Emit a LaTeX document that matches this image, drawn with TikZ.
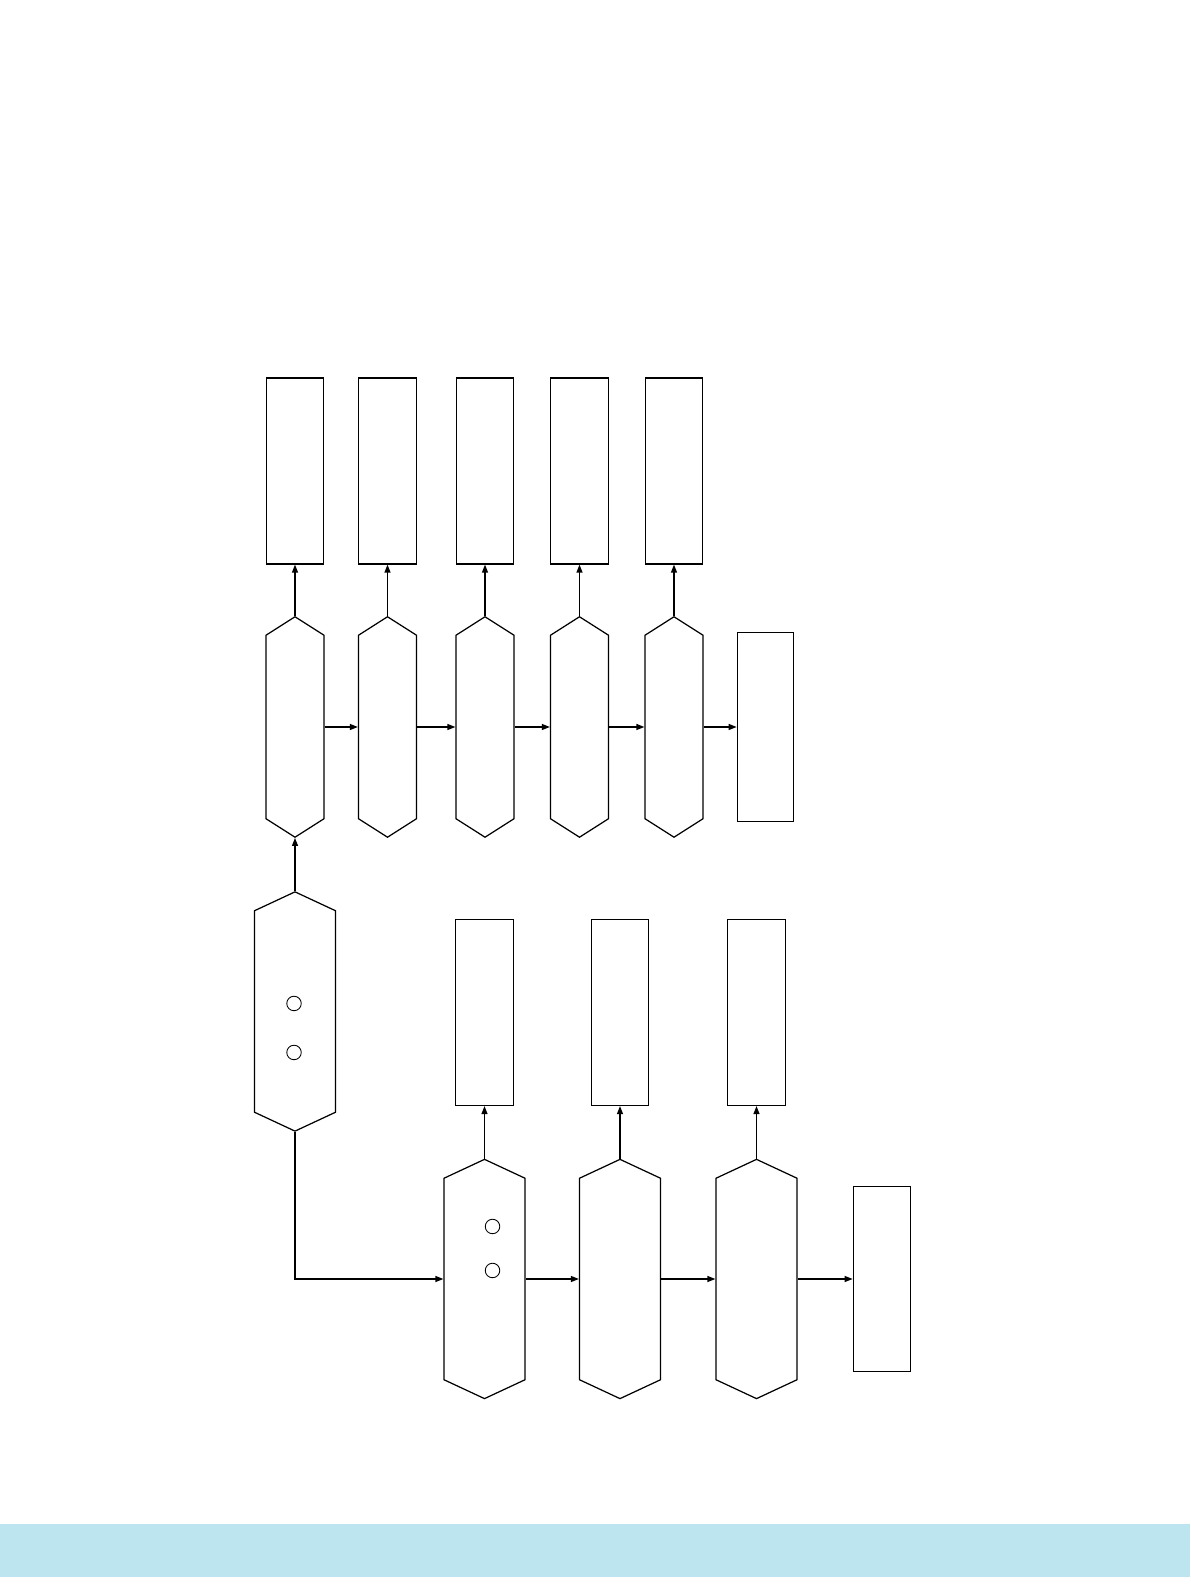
\documentclass[tikz,border=0pt]{standalone}
\usepackage{tikz}
\usetikzlibrary{arrows.meta}
\usetikzlibrary{shapes.symbols}
\definecolor{bandblue}{RGB}{188,229,240}
\tikzset{
  box/.style={draw, rectangle, inner sep=0pt, minimum width=1.15cm, minimum height=3.72cm},
  hexa/.style={draw, signal, signal to=north and south, inner sep=0pt},
  thinhex/.style={hexa, signal pointer angle=115, minimum width=1.16cm, minimum height=3.67cm},
  widehex/.style={hexa, signal pointer angle=130, minimum width=1.62cm, minimum height=4.03cm},
  hole/.style={draw, circle, inner sep=0pt, minimum size=0.29cm, line width=0.5pt},
  flow/.style={-{Triangle[length=0.16cm,width=0.12cm]}}
}
\begin{document}
\begin{tikzpicture}[line width=0.7pt]
\useasboundingbox (0,0) rectangle (23.8,31.76);
\fill[bandblue] (0,0.22) rectangle (23.8,1.28);
% draws upper row
\node[box] (ra) at (5.90,22.34) {};
\node[box] (rb) at (7.75,22.34) {};
\node[box] (rc) at (9.70,22.34) {};
\node[box] (rd) at (11.59,22.34) {};
\node[box] (re) at (13.48,22.34) {};
\node[thinhex] (ha) at (5.90,17.22) {};
\node[thinhex] (hb) at (7.75,17.22) {};
\node[thinhex] (hc) at (9.70,17.22) {};
\node[thinhex] (hd) at (11.59,17.22) {};
\node[thinhex] (he) at (13.48,17.22) {};
\node[box, minimum width=1.13cm, minimum height=3.77cm] (rf) at (15.31,17.22) {};
% draws feed column
\node[widehex] (hf) at (5.90,11.53) {};
\node[hole] (ca) at (5.88,11.69) {};
\node[hole] (cb) at (5.88,10.71) {};
% draws lower row
\node[box] (rg) at (9.69,11.51) {};
\node[box] (rh) at (12.40,11.51) {};
\node[box] (ri) at (15.13,11.51) {};
\node[widehex] (hg) at (9.69,6.18) {};
\node[widehex] (hh) at (12.40,6.18) {};
\node[widehex] (hi) at (15.13,6.18) {};
\node[hole] (cc) at (9.85,7.23) {};
\node[hole] (cd) at (9.85,6.35) {};
\node[box, minimum height=3.71cm] (rj) at (17.64,6.18) {};
% draws arrows
\draw[flow] (ha.north) to (ra.south);
\draw[flow] (hb.north) to (rb.south);
\draw[flow] (hc.north) to (rc.south);
\draw[flow] (hd.north) to (rd.south);
\draw[flow] (he.north) to (re.south);
\draw[flow] (ha.east) to (hb.west);
\draw[flow] (hb.east) to (hc.west);
\draw[flow] (hc.east) to (hd.west);
\draw[flow] (hd.east) to (he.west);
\draw[flow] (he.east) to (rf.west);
\draw[flow] (hf.north) to (ha.south);
\draw[flow] (hf.south) |- (hg.west);
\draw[flow] (hg.north) to (rg.south);
\draw[flow] (hh.north) to (rh.south);
\draw[flow] (hi.north) to (ri.south);
\draw[flow] (hg.east) to (hh.west);
\draw[flow] (hh.east) to (hi.west);
\draw[flow] (hi.east) to (rj.west);
\end{tikzpicture}
\end{document}
